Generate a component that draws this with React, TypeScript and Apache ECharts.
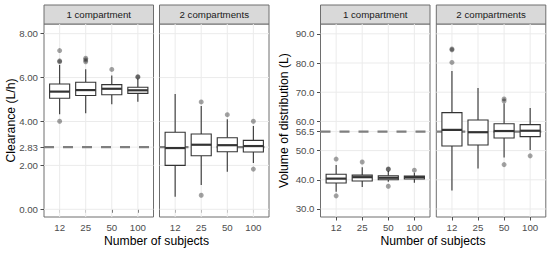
import React, { useEffect, useRef } from "react";
import * as echarts from "echarts";

const subjects = ["12", "25", "50", "100"];
const facets = ["1 compartment", "2 compartments"];

// each box: [lower whisker, Q1, median, Q3, upper whisker]
const clearance1Cmt = [
  [4.33, 5.06, 5.36, 5.71, 6.57],
  [4.37, 5.18, 5.43, 5.79, 6.38],
  [4.78, 5.22, 5.49, 5.68, 6.09],
  [4.9, 5.28, 5.42, 5.56, 5.95],
];
const clearance2Cmt = [
  [0.57, 2.0, 2.79, 3.51, 5.25],
  [1.11, 2.44, 2.94, 3.43, 4.71],
  [1.71, 2.62, 2.92, 3.26, 4.1],
  [2.11, 2.61, 2.88, 3.14, 3.79],
];
const clearance1CmtOutliers = [[7.23, 6.76, 6.72, 4.01], [6.88, 6.8, 6.72], [6.37], [6.04, 6.02]];
const clearance2CmtOutliers = [[], [4.89, 0.64], [4.31], [4.01, 1.83]];

const volume1Cmt = [
  [35.9, 38.9, 40.4, 41.9, 45.1],
  [37.5, 39.6, 40.9, 41.6, 44.3],
  [39.3, 40.0, 40.7, 41.4, 43.0],
  [39.0, 40.3, 40.9, 41.3, 42.4],
];
const volume2Cmt = [
  [36.3, 51.6, 57.1, 63.0, 77.3],
  [43.9, 51.9, 56.3, 60.5, 71.4],
  [47.6, 54.3, 56.7, 59.2, 66.1],
  [50.2, 54.8, 56.8, 58.9, 64.6],
];
const volume1CmtOutliers = [[47.1, 34.5], [46.1], [43.7, 43.6, 37.8], [43.3]];
const volume2CmtOutliers = [[84.8, 84.5, 80.2], [], [67.7, 67.0, 45.2], [48.2]];

const clearanceTicks = [0, 2, 2.83, 4, 6, 8];
const volumeTicks = [30, 40, 50, 56.5, 60, 70, 80, 90];
const clearanceTrue = 2.83;
const volumeTrue = 56.5;

const FONT = "'Liberation Sans', Arial, Helvetica, sans-serif";
const BORDER = "#6e6e6e";

export default function App() {
  const ref = useRef<HTMLDivElement>(null);
  useEffect(() => {
    const chart = echarts.init(ref.current!, null, { renderer: "svg" });

    const gridRects = [
      { left: 44, top: 24, width: 109.5, height: 193 },
      { left: 159.5, top: 24, width: 109.5, height: 193 },
      { left: 320.5, top: 24, width: 109.5, height: 193 },
      { left: 436.3, top: 24, width: 109.5, height: 193 },
    ];
    const panels = [
      { boxes: clearance1Cmt, outliers: clearance1CmtOutliers, ticks: clearanceTicks, ref: clearanceTrue, min: -0.351, max: 8.44, dec: 2, showY: true },
      { boxes: clearance2Cmt, outliers: clearance2CmtOutliers, ticks: clearanceTicks, ref: clearanceTrue, min: -0.351, max: 8.44, dec: 2, showY: false },
      { boxes: volume1Cmt, outliers: volume1CmtOutliers, ticks: volumeTicks, ref: volumeTrue, min: 27.26, max: 93.36, dec: 1, showY: true },
      { boxes: volume2Cmt, outliers: volume2CmtOutliers, ticks: volumeTicks, ref: volumeTrue, min: 27.26, max: 93.36, dec: 1, showY: false },
    ];
    const xPos = subjects.map((_, i) => i + 1);

    const grid = gridRects.map((g) => ({
      ...g,
      show: true,
      borderColor: BORDER,
      borderWidth: 1,
      backgroundColor: "#ffffff",
      containLabel: false,
    }));

    const xAxis = panels.map((_, k) => ({
      type: "value",
      gridIndex: k,
      min: 0.4,
      max: 4.6,
      axisLine: { show: false },
      splitLine: { show: false },
      axisTick: { show: true, customValues: xPos, length: 3.5, lineStyle: { color: "#4d4d4d", width: 1 } },
      axisLabel: {
        show: true,
        customValues: xPos,
        formatter: (v: number) => subjects[Math.round(v) - 1] ?? "",
        color: "#4d4d4d",
        fontSize: 9.7,
        fontFamily: FONT,
        margin: 5,
      },
    }));

    const yAxis = panels.map((p, k) => ({
      type: "value",
      gridIndex: k,
      min: p.min,
      max: p.max,
      axisLine: { show: false },
      splitLine: { show: false },
      axisTick: { show: p.showY, customValues: p.ticks, length: 3.5, lineStyle: { color: "#4d4d4d", width: 1 } },
      axisLabel: {
        show: p.showY,
        customValues: p.ticks,
        formatter: (v: number) => v.toFixed(p.dec),
        color: "#4d4d4d",
        fontSize: 9.7,
        fontFamily: FONT,
        margin: 6,
      },
    }));

    const series: any[] = [];
    panels.forEach((p, k) => {
      // horizontal grid lines
      series.push({
        type: "custom",
        xAxisIndex: k,
        yAxisIndex: k,
        z: 1,
        silent: true,
        encode: { x: 0, y: 1 },
        data: p.ticks.map((v) => [1, v]),
        renderItem: (params: any, api: any) => {
          const cs = params.coordSys;
          const y = api.coord([1, api.value(1)])[1];
          return {
            type: "line",
            shape: { x1: cs.x, y1: y, x2: cs.x + cs.width, y2: y },
            style: { stroke: "#ebebeb", lineWidth: 1 },
          };
        },
      });
      // vertical grid lines
      series.push({
        type: "custom",
        xAxisIndex: k,
        yAxisIndex: k,
        z: 1,
        silent: true,
        encode: { x: 0, y: 1 },
        data: xPos.map((x) => [x, p.ticks[1]]),
        renderItem: (params: any, api: any) => {
          const cs = params.coordSys;
          const x = api.coord([api.value(0), api.value(1)])[0];
          return {
            type: "line",
            shape: { x1: x, y1: cs.y, x2: x, y2: cs.y + cs.height },
            style: { stroke: "#ebebeb", lineWidth: 1 },
          };
        },
      });
      // reference line
      series.push({
        type: "custom",
        xAxisIndex: k,
        yAxisIndex: k,
        z: 2,
        silent: true,
        encode: { x: 0, y: 1 },
        data: [[1, p.ref]],
        renderItem: (params: any, api: any) => {
          const cs = params.coordSys;
          const y = api.coord([1, api.value(1)])[1];
          return {
            type: "line",
            shape: { x1: cs.x, y1: y, x2: cs.x + cs.width, y2: y },
            style: { stroke: "#7f7f7f", lineWidth: 2.2, lineDash: [10, 9] },
          };
        },
      });
      // boxes
      series.push({
        type: "custom",
        xAxisIndex: k,
        yAxisIndex: k,
        z: 3,
        silent: true,
        encode: { x: 0, y: [1, 2, 3, 4, 5] },
        data: p.boxes.map((b, i) => [i + 1, ...b]),
        renderItem: (params: any, api: any) => {
          const x = api.value(0);
          const lo = api.coord([x, api.value(1)]);
          const q1 = api.coord([x, api.value(2)]);
          const med = api.coord([x, api.value(3)]);
          const q3 = api.coord([x, api.value(4)]);
          const hi = api.coord([x, api.value(5)]);
          const hw = api.size([0.77, 0])[0] / 2;
          const cx = lo[0];
          const stroke = "#333333";
          return {
            type: "group",
            children: [
              { type: "line", shape: { x1: cx, y1: hi[1], x2: cx, y2: q3[1] }, style: { stroke, lineWidth: 1.1 } },
              { type: "line", shape: { x1: cx, y1: q1[1], x2: cx, y2: lo[1] }, style: { stroke, lineWidth: 1.1 } },
              {
                type: "rect",
                shape: { x: cx - hw, y: q3[1], width: 2 * hw, height: q1[1] - q3[1] },
                style: { fill: "#ffffff", stroke, lineWidth: 1.1 },
              },
              { type: "line", shape: { x1: cx - hw, y1: med[1], x2: cx + hw, y2: med[1] }, style: { stroke, lineWidth: 2.2 } },
            ],
          };
        },
      });
      // outliers
      series.push({
        type: "scatter",
        xAxisIndex: k,
        yAxisIndex: k,
        z: 4,
        silent: true,
        symbol: "circle",
        symbolSize: 5,
        itemStyle: { color: "#000000", opacity: 0.36 },
        data: p.outliers.flatMap((arr, i) => arr.map((v) => [i + 1, v])),
      });
    });

    const graphic: any[] = [];
    gridRects.forEach((g, k) => {
      graphic.push({
        type: "rect",
        shape: { x: g.left, y: 5, width: g.width, height: g.top - 5 },
        style: { fill: "#d9d9d9", stroke: BORDER, lineWidth: 1 },
        silent: true,
      });
      graphic.push({
        type: "text",
        x: g.left + g.width / 2,
        y: 14.8,
        silent: true,
        style: {
          text: facets[k % 2],
          fill: "#1a1a1a",
          font: `9.7px ${FONT}`,
          align: "center",
          verticalAlign: "middle",
          textAlign: "center",
          textVerticalAlign: "middle",
        },
      });
    });
    const titles = [
      { text: "Number of subjects", x: 156.5, y: 240.5, rot: 0 },
      { text: "Number of subjects", x: 433, y: 240.5, rot: 0 },
      { text: "Clearance (L/h)", x: 10.5, y: 120.5, rot: Math.PI / 2 },
      { text: "Volume of distribution (L)", x: 284, y: 120.5, rot: Math.PI / 2 },
    ];
    titles.forEach((t) => {
      graphic.push({
        type: "text",
        x: t.x,
        y: t.y,
        rotation: t.rot,
        silent: true,
        style: {
          text: t.text,
          fill: "#000000",
          font: `12.2px ${FONT}`,
          align: "center",
          verticalAlign: "middle",
          textAlign: "center",
          textVerticalAlign: "middle",
        },
      });
    });

    chart.setOption({
      animation: false,
      backgroundColor: "#ffffff",
      textStyle: { fontFamily: FONT },
      grid,
      xAxis,
      yAxis,
      series,
      graphic,
    });
    return () => chart.dispose();
  }, []);
  return <div ref={ref} style={{ position: "absolute", left: 0, top: 0, width: 550, height: 254 }} />;
}
